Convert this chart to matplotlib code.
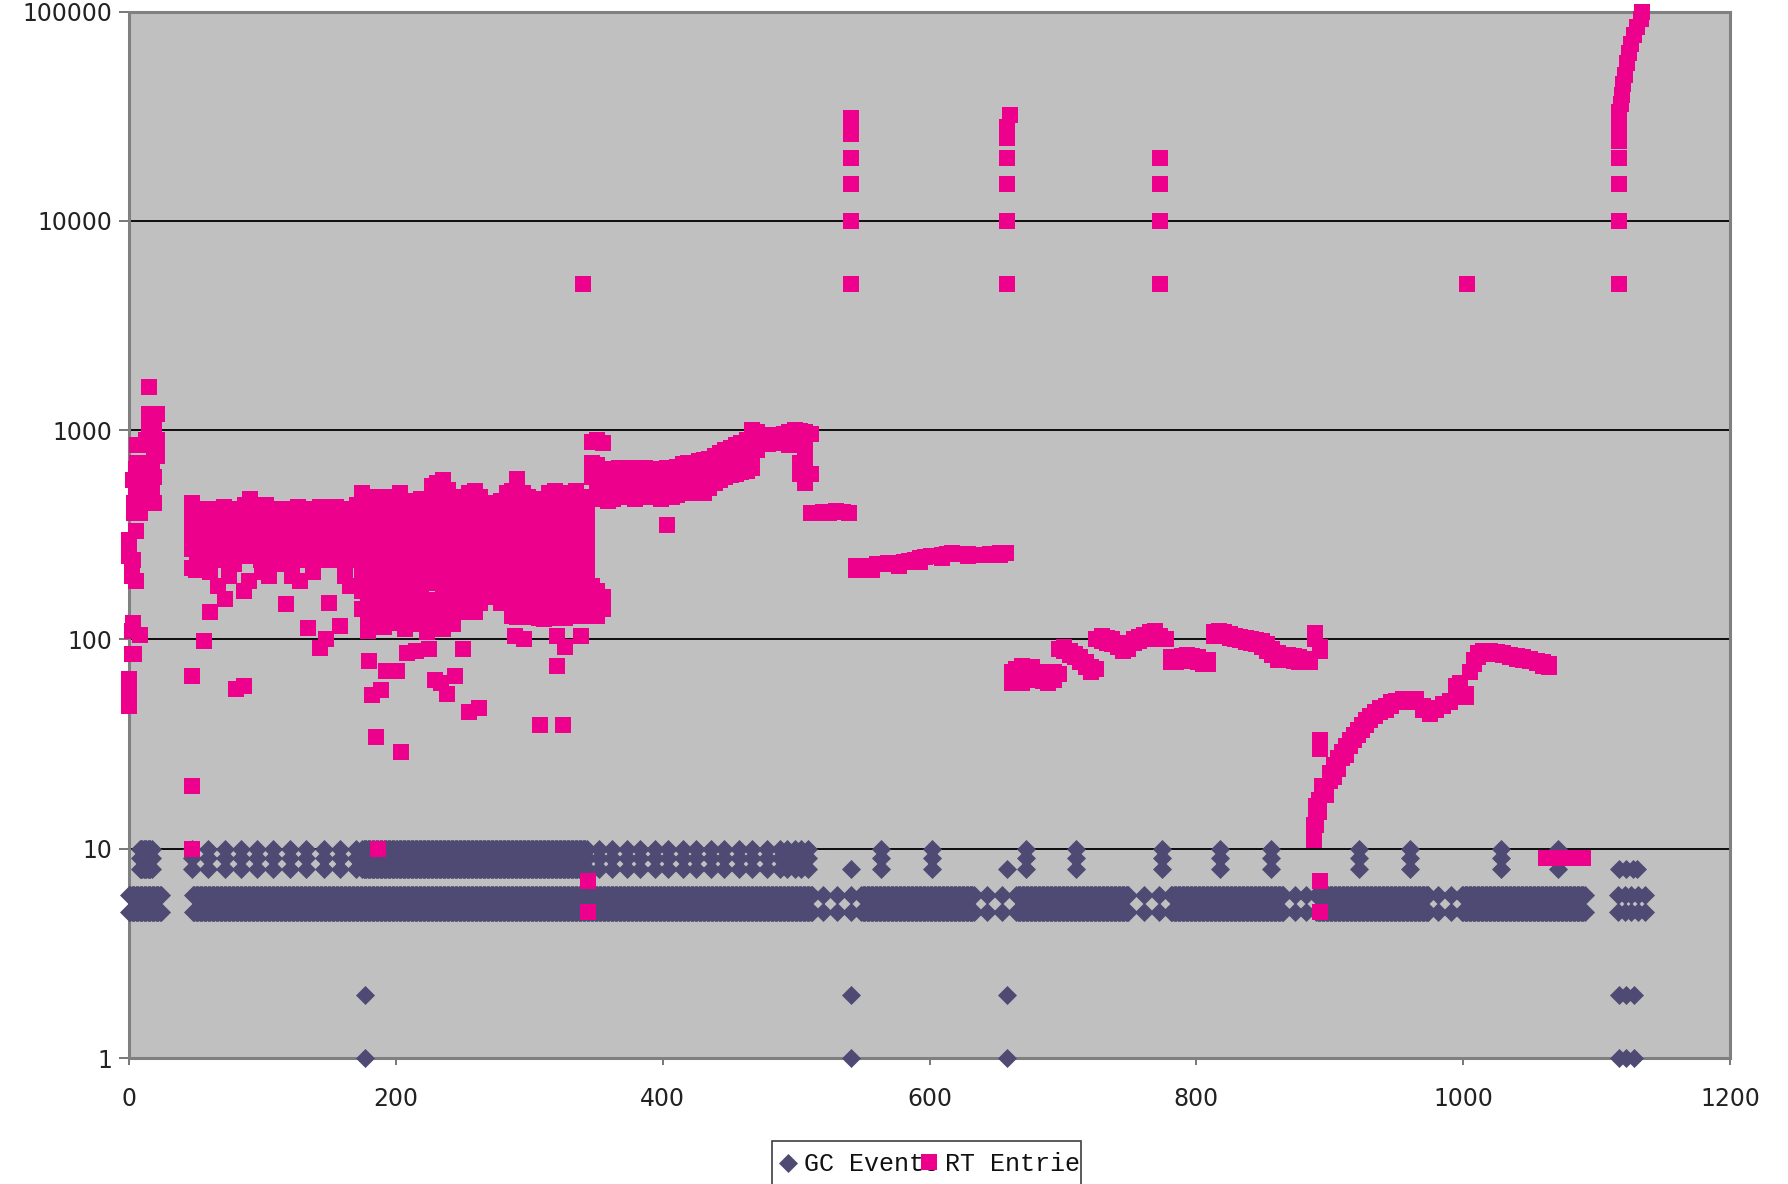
import numpy as np
import matplotlib
matplotlib.use('Agg')
import matplotlib.pyplot as plt
from matplotlib.path import Path
from matplotlib.patches import Rectangle
from matplotlib.ticker import FixedLocator, NullLocator

# ---- GC events (x = event index) ----
# continuous runs (first, last), plus isolated events
gc_low_runs = [(0, 24), (48, 512), (549, 633), (665, 749), (781, 865), (890, 974), (999, 1091)]
gc_low_extra = [520, 531, 541, 643, 654, 761, 772, 874, 882, 981, 991, 1116, 1121, 1126, 1131, 1136]
gc_low_levels = [5, 6]

gc_high_runs = [(8, 17), (175, 343)]
gc_high_extra = [47, 59, 72, 84, 96, 108, 121, 133, 146, 158, 170,
                 352, 362, 373, 383, 394, 404, 415, 425, 436, 446, 457, 467, 478, 488, 493, 499, 504, 509,
                 564, 602, 672, 710, 774, 818, 856, 922, 960, 1028, 1071]
gc_high_levels = [8, 9, 10]

gc_eight_only = [541, 658, 1117, 1122, 1127, 1130]
gc_bottom = [177, 541, 658, 1117, 1122, 1128]
gc_bottom_levels = [1, 2]

# ---- RT entries: (x, values at that x) ----
rt_early = [
    (0, [300, 270, 250, 65, 55, 48]), (2, [230, 200, 110, 85]), (3, [240, 120, 580]),
    (4, [450, 400, 85]), (5, [650, 500, 330, 190]), (6, [700, 550, 850, 480]),
    (8, [600, 450, 400, 105]), (10, [550, 650, 500]), (13, [450, 700, 900]),
    (15, [1600, 1200, 1000, 600]), (17, [1200, 850, 700, 500]), (19, [1000, 800, 600, 450]),
    (21, [1200, 900, 750]),
]

rt_band_a = [
    (47, [450, 380, 320, 270, 220]), (51, [410, 350, 290, 240]), (55, [400, 340, 280, 230]),
    (59, [420, 360, 300, 250]), (63, [400, 340, 290, 240]), (67, [410, 350, 300, 260]),
    (71, [430, 370, 310, 260]), (75, [420, 350, 290, 240]), (79, [400, 340, 280, 230]),
    (83, [420, 360, 300, 250]), (87, [440, 370, 310, 260]), (91, [470, 390, 330, 270]),
    (95, [430, 360, 300, 250]), (99, [410, 350, 290, 240]), (103, [440, 370, 310, 260]),
    (107, [420, 350, 290, 240]), (111, [400, 340, 280, 230]), (115, [410, 350, 300, 250]),
    (119, [420, 360, 300, 250]), (123, [400, 340, 290, 240]), (127, [430, 360, 300, 250]),
    (131, [420, 350, 290, 240]), (135, [410, 350, 300, 250]), (139, [420, 360, 300, 250]),
    (143, [430, 360, 300, 260]), (147, [420, 350, 290, 240]), (151, [410, 340, 280, 240]),
    (155, [430, 360, 300, 250]), (159, [420, 350, 290, 250]), (163, [400, 340, 280, 240]),
    (167, [420, 350, 300, 250]), (171, [440, 360, 300, 250]),
]

rt_band_b = [
    (175, [500, 420, 350, 290, 240, 200, 170, 140]),
    (179, [440, 380, 320, 270, 225, 185, 150, 125, 110]),
    (183, [460, 390, 330, 280, 230, 190, 160, 130]),
    (187, [480, 400, 340, 290, 240, 200, 165, 140, 118]),
    (191, [470, 400, 340, 280, 235, 195, 160, 135, 115]),
    (195, [450, 380, 320, 270, 225, 185, 155, 128]),
    (199, [480, 410, 340, 290, 240, 200, 170, 140, 120]),
    (203, [500, 420, 350, 290, 245, 205, 170, 145, 122]),
    (207, [460, 390, 330, 275, 230, 190, 160, 132, 112]),
    (211, [440, 370, 310, 260, 220, 185, 150, 125]),
    (215, [460, 400, 340, 290, 240, 200, 165, 138, 118]),
    (219, [470, 400, 340, 280, 235, 195, 160, 130]),
    (223, [450, 380, 320, 270, 225, 190, 155, 128, 108]),
    (227, [540, 450, 380, 320, 270, 225, 185, 150, 125]),
    (231, [560, 470, 390, 330, 275, 230, 190, 155, 130]),
    (235, [580, 480, 400, 330, 280, 235, 195, 160, 135, 112]),
    (239, [520, 440, 370, 310, 260, 215, 180, 150, 125]),
    (243, [480, 410, 350, 290, 240, 200, 165, 140, 118]),
    (247, [460, 390, 330, 280, 235, 195, 160, 135]),
    (251, [480, 400, 340, 290, 240, 200, 170, 145]),
    (255, [500, 420, 350, 290, 245, 205, 172, 148]),
    (259, [510, 430, 360, 300, 250, 210, 175, 150, 135]),
    (263, [480, 410, 350, 290, 240, 200, 170, 150]),
    (267, [440, 380, 320, 270, 225, 190, 160]),
    (271, [430, 370, 310, 265, 225, 190, 165]),
    (275, [450, 380, 320, 270, 230, 195, 170]),
    (279, [460, 390, 330, 280, 235, 200, 175, 150]),
    (283, [500, 420, 350, 290, 245, 205, 175, 150]),
    (287, [510, 430, 360, 300, 255, 215, 180, 155, 130]),
    (291, [585, 480, 400, 340, 290, 245, 205, 175, 150, 128]),
    (295, [500, 430, 360, 300, 255, 215, 180, 160, 135]),
    (299, [480, 410, 350, 295, 250, 210, 180, 158, 130]),
    (303, [470, 400, 340, 290, 245, 210, 180, 155, 128]),
    (307, [460, 390, 330, 280, 240, 205, 175, 150, 126]),
    (311, [450, 380, 320, 275, 235, 200, 170, 148, 125]),
    (315, [500, 400, 340, 290, 245, 205, 175, 150, 128]),
    (319, [510, 410, 350, 295, 250, 210, 180, 155, 130]),
    (323, [490, 420, 355, 300, 255, 215, 180, 150, 127]),
    (327, [500, 400, 340, 290, 245, 210, 175, 150, 126]),
    (331, [480, 410, 350, 295, 250, 210, 175, 150, 130]),
    (335, [510, 400, 340, 290, 245, 205, 170, 150, 135]),
    (339, [480, 400, 340, 290, 240, 200, 170, 150, 140]),
    (343, [420, 360, 310, 260, 220, 185, 160, 145, 130]),
    (347, [180, 155, 135]), (351, [170, 150, 130]), (355, [160, 140]),
]

rt_rise = [
    (347, [880, 700, 600]), (351, [900, 680, 580, 520, 470]), (355, [870, 650, 560, 480]),
    (359, [640, 560, 500, 460]), (363, [650, 570, 510, 470]), (367, [660, 580, 520, 480]),
    (371, [650, 570, 510]), (375, [660, 580, 520, 480]), (379, [640, 570, 510, 470]),
    (383, [650, 580, 520]), (387, [660, 590, 530, 480]), (391, [640, 570, 520, 480]),
    (395, [650, 580, 530, 490]), (399, [640, 580, 520, 470]), (403, [660, 590, 530, 352]),
    (407, [650, 580, 520, 480]), (411, [670, 600, 540, 490]), (415, [690, 620, 560, 510]),
    (419, [700, 630, 570]), (423, [690, 620, 560, 500]), (427, [710, 640, 580, 510]),
    (431, [720, 650, 590, 500]), (435, [730, 660, 600, 530]), (439, [750, 680, 620, 560]),
    (443, [780, 700, 640, 580]), (447, [800, 720, 660, 600]), (451, [820, 740, 670, 610]),
    (455, [850, 760, 680, 620]), (459, [870, 780, 700, 630]), (463, [900, 800, 720, 640]),
    (467, [1000, 850, 750, 660]), (471, [980, 880, 800]), (475, [950, 880]),
    (479, [920, 860]), (483, [940, 870]), (487, [950, 880]), (491, [960, 890]),
    (495, [980, 900, 850]), (499, [1000, 920, 860]), (503, [990, 900, 700, 620]),
    (507, [980, 900, 750, 650, 560]), (511, [960, 620, 400]),
    (515, [400]), (520, [405]), (525, [400]), (530, [410]), (535, [405]), (540, [400]),
]

rt_flat = [
    (545, [215, 225]), (549, [220]), (553, [222]), (557, [225, 215]), (561, [228]),
    (565, [230]), (569, [232]), (573, [230]), (577, [232, 225]), (581, [235]),
    (585, [238]), (589, [240]), (593, [245, 235]), (597, [248]), (601, [250]),
    (605, [250]), (609, [252, 245]), (613, [255]), (617, [258]), (621, [256]),
    (625, [255]), (629, [255, 250]), (633, [254]), (637, [253]), (641, [252]),
    (645, [255]), (649, [257]), (653, [258, 252]), (657, [260]),
]

rt_low = [
    (662, [70, 62]), (665, [72, 65]), (669, [75, 68, 62]), (673, [72, 66]), (677, [74, 68]),
    (681, [70, 64]), (685, [68, 63]), (689, [66, 62]), (693, [70, 64]), (697, [90, 68]),
    (701, [92, 88]), (705, [88, 84]), (709, [85, 82]), (713, [82, 78]), (717, [78, 74]),
    (721, [74, 70]), (725, [72, 100]), (729, [104, 98]), (733, [102, 96]), (737, [100, 95]),
    (741, [96, 92]), (745, [92, 88]), (749, [95, 90]), (753, [100, 96]), (757, [103, 98]),
    (761, [105, 100]), (765, [108, 104]), (769, [110, 105]), (773, [104, 100]), (777, [100]),
    (781, [82, 78]), (785, [82, 78]), (789, [83, 80]), (793, [84, 80]), (797, [83, 79]),
    (801, [82, 78]), (805, [80, 76]), (809, [80, 76]), (813, [108, 104]), (817, [110, 106]),
    (821, [108, 104]), (825, [106, 102]), (829, [104, 100]), (833, [103, 99]), (837, [101, 97]),
    (841, [100, 96]), (845, [99, 95]), (849, [98, 92]), (853, [95, 88]), (857, [90, 84]),
    (861, [86, 80]), (865, [84, 80]), (869, [84, 80]), (873, [83, 79]), (877, [82, 78]),
    (881, [81, 78]), (885, [80, 78]), (889, [107, 100]), (893, [92, 88]),
]

rt_curve = [
    (888, [11, 12, 13]), (890, [13, 14, 16]), (892, [15, 17]), (894, [18, 19, 20]),
    (897, [20, 18]), (900, [21, 23]), (903, [22, 25]), (906, [24, 27]), (909, [27, 29]),
    (912, [28, 31]), (915, [31, 33]), (918, [33, 35]), (921, [35, 37]), (924, [37, 39]),
    (927, [39, 41]), (930, [41, 43]), (934, [43, 45]), (938, [45, 47]), (942, [46, 48]),
    (946, [48, 50]), (950, [50, 51]), (955, [51, 52]), (960, [51, 50]), (965, [52, 50]),
    (970, [48, 46]), (975, [45, 44]), (980, [47, 46]), (985, [49, 48]), (990, [51, 50]),
    (995, [60, 58]), (998, [62]), (1002, [55, 53]), (1005, [70]), (1008, [80, 76]),
    (1011, [86, 82]), (1015, [88, 85]), (1020, [88, 86]), (1025, [87, 85]), (1030, [86, 84]),
    (1035, [84, 82]), (1040, [83, 81]), (1045, [82, 80]), (1050, [81, 79]), (1055, [79, 77]),
    (1060, [78, 75]), (1064, [76, 74]),
    (1062, [9]), (1066, [9]), (1070, [9]), (1074, [9]), (1078, [9]), (1082, [9]),
    (1086, [9]), (1090, [9]),
]

rt_spikes = [
    (340, [5000]),
    (541, [5000, 10000, 15000, 20000, 26000, 28500, 31000]),
    (658, [5000, 10000, 15000, 20000, 25000, 28000]), (660, [32000]),
    (773, [5000, 10000, 15000, 20000]),
    (1003, [5000]),
    (1117, [5000, 10000, 15000, 20000, 24000, 27000, 30000, 33000]),
    (1118, [36000]), (1119, [40000]), (1120, [45000]), (1121, [50000]), (1123, [57000]),
    (1124, [63000]), (1126, [70000]), (1128, [77000]), (1130, [84000]), (1133, [92000]),
    (1134, [100000]),
]

rt_scatter = [
    (47, 67), (47, 20), (47, 10), (50, 215), (56, 98), (61, 135), (61, 210), (67, 180),
    (72, 156), (75, 200), (80, 58), (86, 60), (86, 170), (90, 190), (100, 210), (105, 200),
    (118, 148), (122, 200), (128, 190), (134, 113), (138, 210), (143, 91), (148, 100),
    (150, 150), (158, 116), (162, 200), (166, 180),
    (180, 79), (182, 54), (185, 34), (187, 10), (189, 57), (193, 71), (201, 71), (204, 29),
    (208, 86), (215, 88), (225, 90), (229, 64), (234, 62), (238, 55), (244, 67), (250, 90),
    (255, 45), (262, 47), (235, 580), (289, 104), (296, 100), (308, 39), (321, 104), (327, 92),
    (321, 75), (325, 39), (339, 104), (344, 7), (344, 5),
    (881, 81), (893, 33), (893, 30), (893, 7), (893, 5),
]

x_ticks = [0, 200, 400, 600, 800, 1000, 1200]
y_ticks = [1, 10, 100, 1000, 10000, 100000]
y_tick_labels = ['1', '10', '100', '1000', '10000', '100000']
legend_labels = ['GC Events', 'RT Entries']

gc_color = '#4e4a73'
rt_color = '#ec008c'


def expand_runs(runs, extra):
    xs = []
    for a, b in runs:
        xs.extend(range(a, b + 1))
    return xs + list(extra)


def on_levels(xs, levels):
    px, py = [], []
    for lv in levels:
        px.extend(xs)
        py.extend([lv] * len(xs))
    return px, py


def flatten(cols):
    px, py = [], []
    for x, vals in cols:
        px.extend([x] * len(vals))
        py.extend(vals)
    return px, py


gc_x, gc_y = [], []
for xs, lv in [(expand_runs(gc_low_runs, gc_low_extra), gc_low_levels),
               (expand_runs(gc_high_runs, gc_high_extra), gc_high_levels),
               (gc_eight_only, [8]),
               (gc_bottom, gc_bottom_levels)]:
    a, b = on_levels(xs, lv)
    gc_x += a
    gc_y += b

rt_x, rt_y = [], []
for seg in [rt_early, rt_band_a, rt_band_b, rt_rise, rt_flat, rt_low, rt_curve, rt_spikes]:
    a, b = flatten(seg)
    rt_x += a
    rt_y += b
rt_x += [p[0] for p in rt_scatter]
rt_y += [p[1] for p in rt_scatter]

diamond = Path([(0, 1), (1, 0), (0, -1), (-1, 0), (0, 1)],
               [Path.MOVETO, Path.LINETO, Path.LINETO, Path.LINETO, Path.CLOSEPOLY])
DSIZE = 13.7
SSIZE = 12

W, H = 1788, 1184
fig = plt.figure(figsize=(W / 100, H / 100), dpi=100)
fig.patch.set_facecolor('white')
ax = fig.add_axes([129 / W, 1 - 1058 / H, (1730 - 129) / W, (1058 - 11.5) / H])
ax.set_facecolor('#c0c0c0')

ax.plot(gc_x, gc_y, ls='none', marker=diamond, markersize=DSIZE, color=gc_color,
        markeredgewidth=0, clip_on=False, zorder=3)
ax.plot(rt_x, rt_y, ls='none', marker='s', markersize=SSIZE, color=rt_color,
        markeredgewidth=0, clip_on=False, zorder=4)

ax.set_yscale('log')
ax.set_ylim(1, 100000)
ax.set_xlim(0, 1200)
ax.yaxis.set_major_locator(FixedLocator(y_ticks))
ax.yaxis.set_minor_locator(NullLocator())
ax.set_yticklabels(y_tick_labels)
ax.set_xticks(x_ticks)
ax.set_xticklabels([str(t) for t in x_ticks])
ax.yaxis.grid(True, color='black', lw=1.3)
ax.set_axisbelow(True)

for s in ax.spines.values():
    s.set_color('#808080')
    s.set_linewidth(2.2)
ax.tick_params(axis='y', length=7, width=1.2, color='#606060', pad=5, labelsize=17, labelcolor='#222222')
ax.tick_params(axis='x', length=5, width=1.2, color='#606060', pad=16, labelsize=17, labelcolor='#222222')

# legend box, clipped by its frame as in the original
lax = fig.add_axes([0, 0, 1, 1])
lax.set_xlim(0, W)
lax.set_ylim(H, 0)
lax.axis('off')
box = Rectangle((772, 1141), 309, 70, facecolor='white', edgecolor='#404040', lw=1.2, zorder=1)
lax.add_patch(box)
lax.plot([788], [1163], ls='none', marker=diamond, markersize=DSIZE, color=gc_color,
         markeredgewidth=0, zorder=3)
t1 = lax.text(804, 1164, legend_labels[0], fontsize=18, family='Liberation Mono',
              va='center', ha='left', color='#111111', zorder=2, clip_on=True)
lax.plot([929], [1162], ls='none', marker='s', markersize=SSIZE, color=rt_color,
         markeredgewidth=0, zorder=4)
t2 = lax.text(945, 1164, legend_labels[1], fontsize=18, family='Liberation Mono',
              va='center', ha='left', color='#111111', zorder=2, clip_on=True)
for t in (t1, t2):
    t.set_clip_path(box)

fig.savefig('out.png', dpi=100)
